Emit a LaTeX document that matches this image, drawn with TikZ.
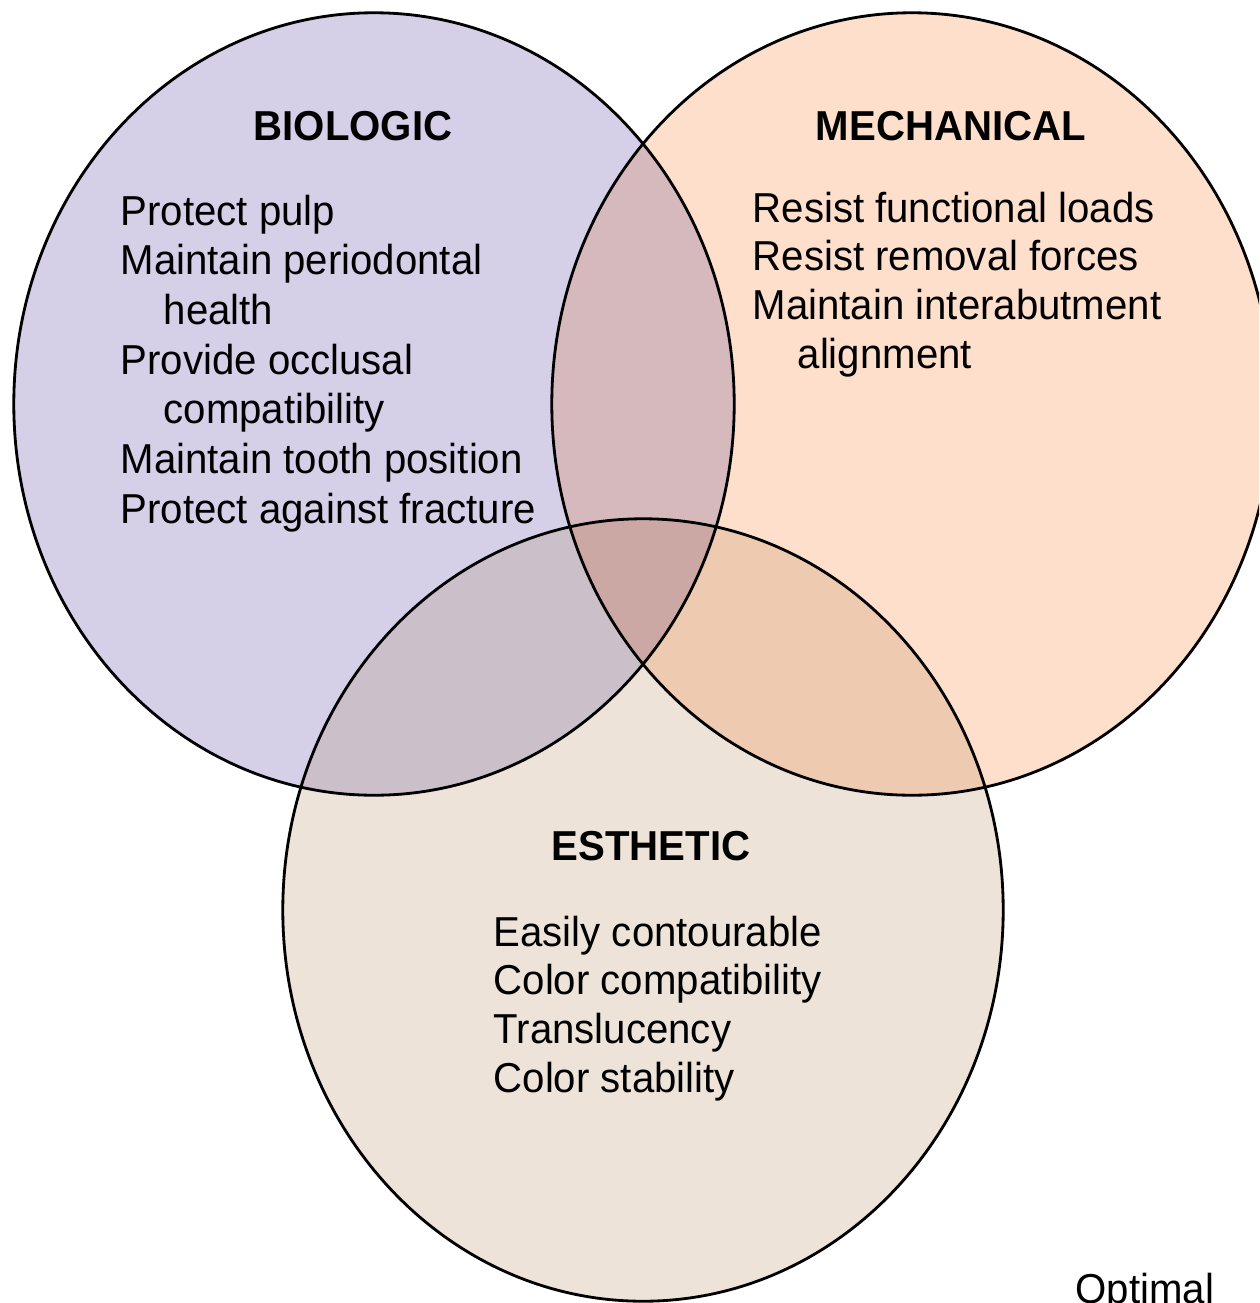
\documentclass[tikz,border=0pt]{standalone}
\usepackage{fontspec}
\setmainfont{Liberation Sans}[FakeStretch=0.96]
\definecolor{biofill}{RGB}{213,208,232}
\definecolor{mechfill}{RGB}{253,223,204}
\definecolor{esthfill}{RGB}{237,227,216}
\definecolor{biomechfill}{RGB}{214,185,189}
\definecolor{bioesthfill}{RGB}{203,192,202}
\definecolor{mechesthfill}{RGB}{238,202,176}
\definecolor{allfill}{RGB}{203,168,164}
\tikzset{
  ring/.style={x radius=3.6cm, y radius=3.91cm},
  lbl/.style={font=\fontsize{11.9}{14}\selectfont, inner sep=0pt, anchor=base west},
  ttl/.style={font=\fontsize{11.9}{14}\selectfont\bfseries, inner sep=0pt, anchor=base},
}

\begin{document}
\begin{tikzpicture}[x=0.01cm, y=-0.01cm]
    \clip (0,0) rectangle (1259,1303);
    \coordinate (bio) at (374,404);
    \coordinate (mech) at (912,404);
    \coordinate (esth) at (643,910);
    \fill[biofill] (bio) ellipse [ring];
    \fill[mechfill] (mech) ellipse [ring];
    \fill[esthfill] (esth) ellipse [ring];
    \begin{scope}
        \clip (mech) ellipse [ring];
        \fill[mechesthfill] (esth) ellipse [ring];
    \end{scope}
    \begin{scope}
        \clip (bio) ellipse [ring];
        \fill[biomechfill] (mech) ellipse [ring];
        \fill[bioesthfill] (esth) ellipse [ring];
        \clip (mech) ellipse [ring];
        \fill[allfill] (esth) ellipse [ring];
    \end{scope}
    \draw[line width=0.8pt] (bio) ellipse [ring];
    \draw[line width=0.8pt] (mech) ellipse [ring];
    \draw[line width=0.8pt] (esth) ellipse [ring];
    \node[ttl] (biotitle) at (353,140) {BIOLOGIC};
    \node[ttl] (mechtitle) at (951,140) {MECHANICAL};
    \node[ttl] (esthtitle) at (651,860) {ESTHETIC};
    \foreach \txt [count=\i from 0] in {Protect pulp, Maintain periodontal, \hspace*{0.43cm}health,
        Provide occlusal, \hspace*{0.43cm}compatibility, Maintain tooth position, Protect against fracture}
        \node[lbl] (bioitem\i) at (120,225+49.7*\i) {\txt};
    \foreach \txt [count=\i from 0] in {Resist functional loads, Resist removal forces,
        Maintain interabutment, \hspace*{0.45cm}alignment}
        \node[lbl] (mechitem\i) at (752,222+48.7*\i) {\txt};
    \foreach \txt [count=\i from 0] in {Easily contourable, Color compatibility, Translucency, Color stability}
        \node[lbl] (esthitem\i) at (493,946+48.7*\i) {\txt};
    \node[lbl] (optimal) at (1075,1303) {Optimal};
\end{tikzpicture}
\end{document}
